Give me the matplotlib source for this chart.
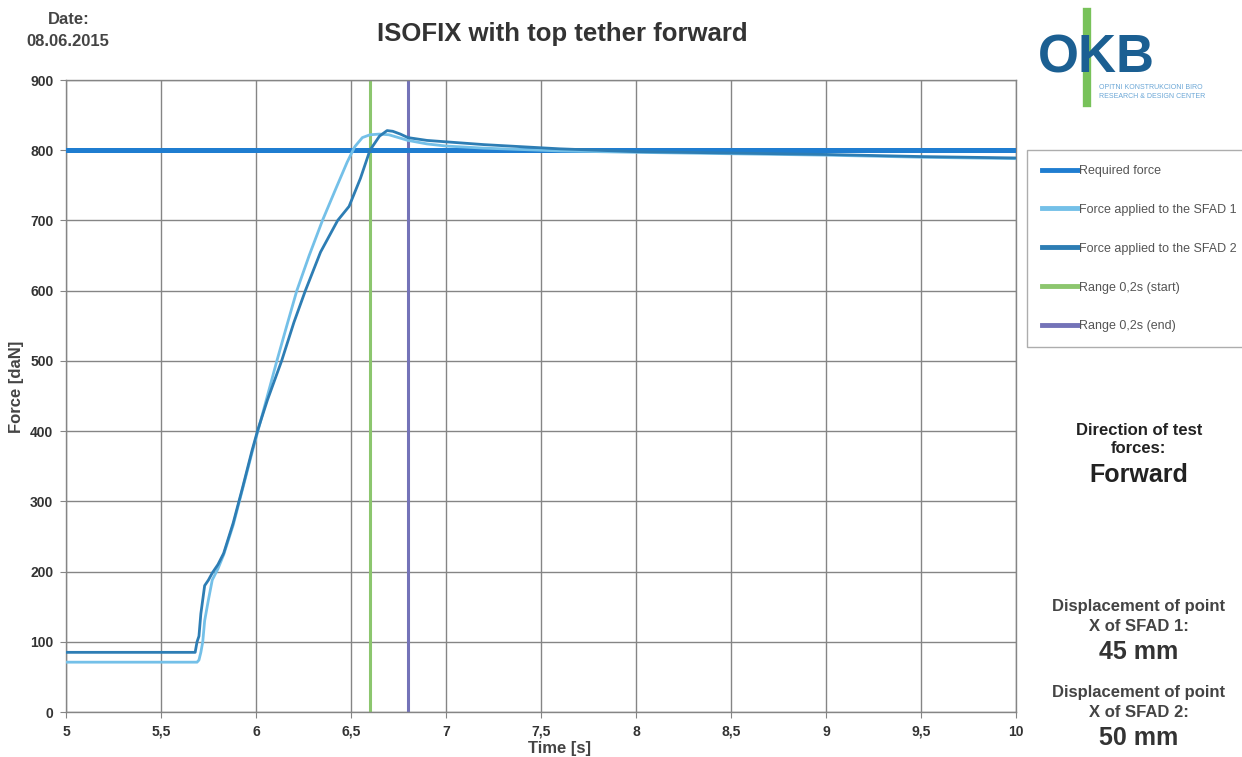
import matplotlib
matplotlib.use("Agg")
import matplotlib.pyplot as plt

plt.rcParams["font.family"] = ["Liberation Sans", "DejaVu Sans"]

# data
time_required = [5.0, 10.0]
force_required = [800, 800]

time_sfad1 = [5.0, 5.69, 5.70, 5.71, 5.72, 5.73, 5.75, 5.77, 5.80, 5.83, 5.88, 5.93, 5.98, 6.02,
              6.06, 6.11, 6.16, 6.215, 6.28, 6.35, 6.42, 6.48, 6.52, 6.56, 6.60, 6.65, 6.70,
              6.75, 6.80, 6.90, 7.0, 7.2, 7.4, 7.6, 7.8, 8.0, 8.5, 9.0, 9.5, 10.0]
force_sfad1 = [71, 71, 74, 85, 100, 130, 160, 188, 204, 224, 266, 318, 370, 410,
               450, 500, 548, 600, 650, 700, 745, 783, 805, 818, 822, 823, 822,
               818, 814, 809, 806, 803, 801, 799, 798, 797, 795, 793, 790, 788]

time_sfad2 = [5.0, 5.68, 5.69, 5.70, 5.71, 5.73, 5.75, 5.77, 5.80, 5.83, 5.88, 5.93, 5.98, 6.01,
              6.06, 6.135, 6.20, 6.26, 6.34, 6.43, 6.49, 6.55, 6.60, 6.65, 6.69, 6.72, 6.76,
              6.80, 6.90, 7.0, 7.2, 7.4, 7.6, 7.8, 8.0, 8.5, 9.0, 9.5, 10.0]
force_sfad2 = [85, 85, 100, 108, 140, 180, 188, 198, 210, 226, 269, 320, 373, 402,
               444, 500, 555, 600, 655, 700, 720, 760, 800, 820, 828, 827, 823,
               818, 814, 812, 808, 805, 802, 800, 798, 796, 794, 791, 789]

range_start = 6.6
range_end = 6.8

x_ticks = [5, 5.5, 6, 6.5, 7, 7.5, 8, 8.5, 9, 9.5, 10]
x_labels = ["5", "5,5", "6", "6,5", "7", "7,5", "8", "8,5", "9", "9,5", "10"]
y_ticks = [0, 100, 200, 300, 400, 500, 600, 700, 800, 900]

fig = plt.figure(figsize=(12.42, 7.57), dpi=100)
ax = fig.add_axes([0.0531, 0.0594, 0.7649, 0.8349])

ax.plot(time_required, force_required, color="#1f7dd0", lw=3.6, label="Required force", zorder=3)
ax.plot(time_sfad1, force_sfad1, color="#74c0e8", lw=2.0, label="Force applied to the SFAD 1", zorder=4)
ax.plot(time_sfad2, force_sfad2, color="#2d7db4", lw=2.0, label="Force applied to the SFAD 2", zorder=5)
ax.plot([range_start, range_start], [0, 900], color="#8cc66e", lw=2.2, label="Range 0,2s (start)", zorder=2)
ax.plot([range_end, range_end], [0, 900], color="#7473b8", lw=2.2, label="Range 0,2s (end)", zorder=2)

ax.set_xlim(5, 10)
ax.set_ylim(0, 900)
ax.set_xticks(x_ticks)
ax.set_xticklabels(x_labels)
ax.set_yticks(y_ticks)
ax.grid(True, color="#858585", lw=1.0)
ax.set_axisbelow(True)
for s in ax.spines.values():
    s.set_color("#858585")
    s.set_linewidth(1.0)
ax.tick_params(axis="both", length=4, color="#858585", labelsize=10, labelcolor="#333333", pad=5)
for lab in ax.get_xticklabels() + ax.get_yticklabels():
    lab.set_fontweight("bold")

ax.set_xlabel("Time [s]", fontsize=12, fontweight="bold", color="#444444")
ax.set_ylabel("Force [daN]", fontsize=12, fontweight="bold", color="#444444")
ax.xaxis.set_label_coords(0.52, -0.046)
ax.yaxis.set_label_coords(-0.044, 0.515)

fig.text(0.453, 0.955, "ISOFIX with top tether forward", ha="center", va="center",
         fontsize=18.5, fontweight="bold", color="#333333")
fig.text(0.055, 0.974, "Date:", ha="center", va="center", fontsize=12, fontweight="bold", color="#444444")
fig.text(0.055, 0.945, "08.06.2015", ha="center", va="center", fontsize=12, fontweight="bold", color="#444444")

leg = fig.legend(loc="upper left", bbox_to_anchor=(0.8265, 0.802), fontsize=9, frameon=True,
                 fancybox=False, edgecolor="#999999", handlelength=2.9, handletextpad=0.1,
                 labelspacing=2.15, borderpad=1.2, borderaxespad=0)
for t in leg.get_texts():
    t.set_color("#555555")
for h in leg.get_lines():
    h.set_linewidth(3.5)

# logo
fig.text(0.883, 0.923, "OKB", ha="center", va="center", fontsize=38, fontweight="bold", color="#1b5f92")
fig.add_artist(plt.Line2D([0.875, 0.875], [0.864, 0.984], color="#78c25a", lw=6, transform=fig.transFigure))
fig.text(0.885, 0.884, "OPITNI KONSTRUKCIONI BIRO", fontsize=5, color="#6aa6d6", va="center")
fig.text(0.885, 0.872, "RESEARCH & DESIGN CENTER", fontsize=5, color="#6aa6d6", va="center")

# side notes
fig.text(0.917, 0.420, "Direction of test\nforces:", ha="center", va="center", fontsize=12,
         fontweight="bold", color="#222222", linespacing=1.25)
fig.text(0.917, 0.372, "Forward", ha="center", va="center", fontsize=18, fontweight="bold", color="#222222")
fig.text(0.917, 0.186, "Displacement of point\nX of SFAD 1:", ha="center", va="center", fontsize=12,
         fontweight="bold", color="#444444", linespacing=1.4)
fig.text(0.917, 0.139, "45 mm", ha="center", va="center", fontsize=18, fontweight="bold", color="#333333")
fig.text(0.917, 0.072, "Displacement of point\nX of SFAD 2:", ha="center", va="center", fontsize=12,
         fontweight="bold", color="#444444", linespacing=1.4)
fig.text(0.917, 0.025, "50 mm", ha="center", va="center", fontsize=18, fontweight="bold", color="#333333")

fig.savefig("out.png", dpi=100)
